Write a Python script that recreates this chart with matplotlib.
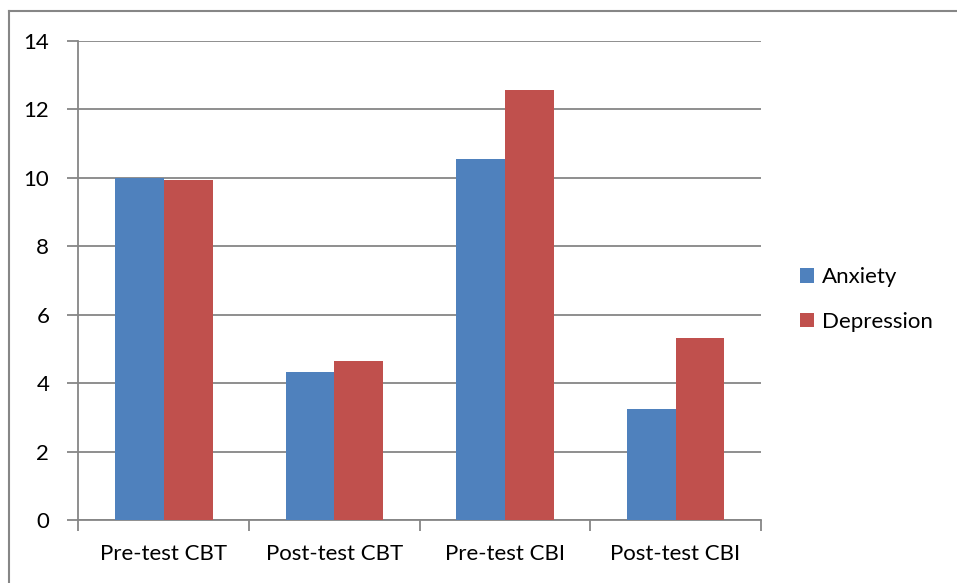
import matplotlib.pyplot as plt
import numpy as np
from matplotlib.lines import Line2D

plt.rcParams['font.family'] = ['Lato', 'DejaVu Sans']

categories = ["Pre-test CBT", "Post-test CBT", "Pre-test CBI", "Post-test CBI"]
anxiety = [10.0, 4.32, 10.56, 3.25]
depression = [9.92, 4.64, 12.56, 5.32]

fig = plt.figure(figsize=(9.57, 5.83), dpi=100)
ax = fig.add_axes([0.082, 0.1077, 0.713, 0.8225])

x = np.arange(len(categories))
w = 1 / 3.5
grid_c = "#868686"

ax.bar(x - w / 2, anxiety, w, color="#4F81BD", label="Anxiety", zorder=3)
ax.bar(x + w / 2, depression, w, color="#C0504D", label="Depression", zorder=3)

ax.set_xlim(-0.5, len(categories) - 0.5)
ax.set_ylim(0, 14)
ax.set_yticks(range(0, 15, 2))
ax.set_xticks(np.arange(-0.5, len(categories), 1))
ax.set_xticklabels([])
ax.set_xticks(x, minor=True)
ax.set_xticklabels(categories, minor=True)
ax.tick_params(axis="x", which="minor", length=0, pad=17, labelsize=16)
ax.tick_params(axis="x", which="major", length=8, width=1.3, color=grid_c)
ax.tick_params(axis="y", length=8, width=1.3, color=grid_c, labelsize=16, pad=13)

ax.grid(axis="y", color=grid_c, lw=1.3, zorder=0)
for s in ["top", "right"]:
    ax.spines[s].set_visible(False)
for s in ["left", "bottom"]:
    ax.spines[s].set_color(grid_c)
    ax.spines[s].set_linewidth(1.3)

ax.legend(loc="center left", bbox_to_anchor=(1.057, 0.46), frameon=False,
          fontsize=16, handlelength=0.65, handleheight=0.65, handletextpad=0.35,
          labelspacing=1.1, borderaxespad=0, borderpad=0)

# outer chart border (top and left visible)
fig.add_artist(Line2D([9 / 957, 9 / 957], [0, 1 - 11 / 583], color=grid_c, lw=1.5))
fig.add_artist(Line2D([9 / 957, 1], [1 - 11 / 583, 1 - 11 / 583], color=grid_c, lw=1.5))

fig.savefig("out.png", dpi=100)
